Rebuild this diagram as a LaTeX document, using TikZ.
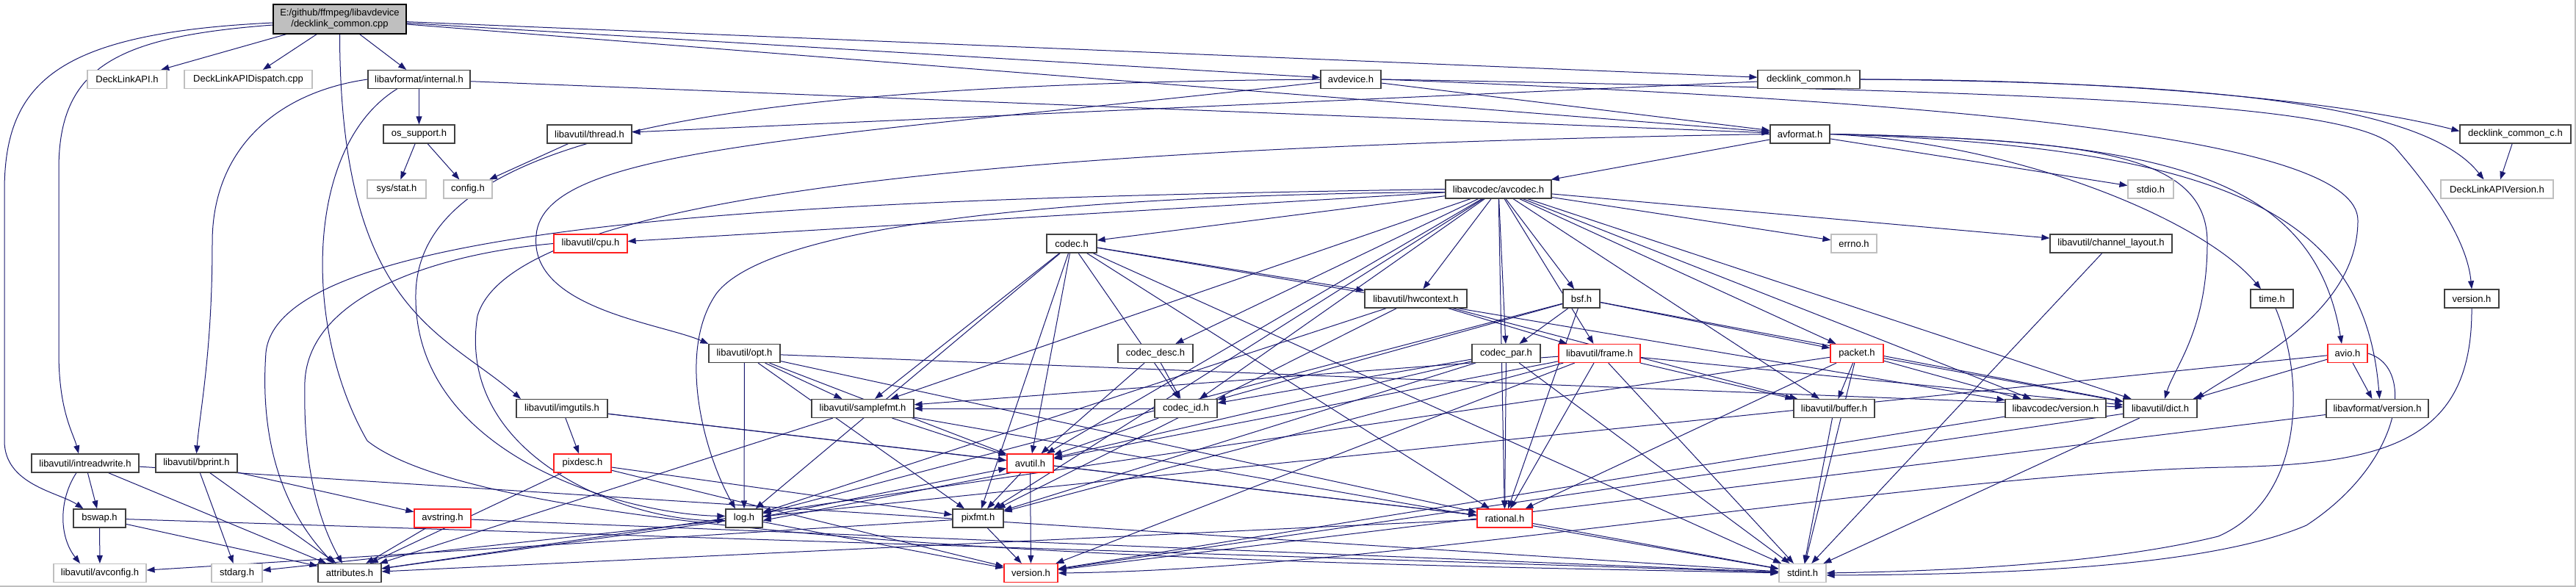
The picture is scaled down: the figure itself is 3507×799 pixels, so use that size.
\documentclass[tikz,border=0pt]{standalone}
\usepackage{fontspec}
\newfontfamily\lsans{Liberation Sans}
\usetikzlibrary{arrows.meta}
\pgfdeclarelayer{background}
\pgfsetlayers{background,main}
\definecolor{edgec}{HTML}{191970}
\definecolor{nodered}{HTML}{FF2020}
\definecolor{nodegray}{HTML}{BFBFBF}
\definecolor{nodeblack}{HTML}{404040}
\begin{document}
\begin{tikzpicture}[x=1pt,y=-1pt,
  base/.style={rectangle, inner sep=0pt, minimum height=25pt, line width=1.2pt, fill=white, font=\lsans\fontsize{13}{15}\selectfont, text=black},
  nb/.style={base, draw=nodeblack},
  nr/.style={base, draw=nodered},
  ng/.style={base, draw=nodegray},
  e/.style={draw=edgec, line width=1pt, -{Triangle[length=11pt,width=8pt]}},
]
\useasboundingbox (0,0) rectangle (3507,799);
% nodes
\node[nb, draw=black, fill=nodegray, minimum width=181pt, minimum height=40pt, align=center] (root) at (462.5,26) {E:/github/ffmpeg/libavdevice\\/decklink\_common.cpp};
\node[ng, minimum width=108pt] (dlapi) at (173,108) {DeckLinkAPI.h};
\node[ng, minimum width=174pt] (dldisp) at (338,108) {DeckLinkAPIDispatch.cpp};
\node[nb, minimum width=139pt] (internal) at (570.5,108) {libavformat/internal.h};
\node[nb, minimum width=82pt] (avdevice) at (1839,108) {avdevice.h};
\node[nb, minimum width=139pt] (dch) at (2462.5,108) {decklink\_common.h};
\node[nb, minimum width=97pt] (ossupport) at (570.5,182.5) {os\_support.h};
\node[nb, minimum width=115pt] (thread) at (802.5,182.5) {libavutil/thread.h};
\node[nb, minimum width=81pt] (avformat) at (2450.5,182.5) {avformat.h};
\node[nb, minimum width=151pt] (dchc) at (3424.5,182.5) {decklink\_common\_c.h};
\node[ng, minimum width=80pt] (sysstat) at (540,257.5) {sys/stat.h};
\node[ng, minimum width=66pt] (config) at (637,257.5) {config.h};
\node[nb, minimum width=144pt] (avcodec) at (2040,257.5) {libavcodec/avcodec.h};
\node[ng, minimum width=62pt] (stdio) at (2928,257.5) {stdio.h};
\node[ng, minimum width=153pt] (dlver) at (3399.5,257.5) {DeckLinkAPIVersion.h};
\node[nr, minimum width=100pt] (cpu) at (804,331.5) {libavutil/cpu.h};
\node[nb, minimum width=68pt] (codec) at (1459,331.5) {codec.h};
\node[ng, minimum width=62pt] (errno) at (2524,331.5) {errno.h};
\node[nb, minimum width=166pt] (chlayout) at (2874,331.5) {libavutil/channel\_layout.h};
\node[nb, minimum width=139pt] (hwcontext) at (1927.5,406.5) {libavutil/hwcontext.h};
\node[nb, minimum width=50pt] (bsf) at (2153,406.5) {bsf.h};
\node[nb, minimum width=58pt] (timeh) at (3093,406.5) {time.h};
\node[nb, minimum width=74pt] (lavdver) at (3365,406.5) {version.h};
\node[nb, minimum width=97pt] (opt) at (1013.5,481) {libavutil/opt.h};
\node[nb, minimum width=102pt] (codecdesc) at (1573,481) {codec\_desc.h};
\node[nb, minimum width=93pt] (codecpar) at (2050.5,481) {codec\_par.h};
\node[nr, minimum width=111pt] (frame) at (2177.5,481) {libavutil/frame.h};
\node[nr, minimum width=72pt] (packet) at (2528,481) {packet.h};
\node[nr, minimum width=54pt] (avio) at (3196,481) {avio.h};
\node[nb, minimum width=124pt] (imgutils) at (765,556) {libavutil/imgutils.h};
\node[nb, minimum width=139pt] (samplefmt) at (1174.5,556) {libavutil/samplefmt.h};
\node[nb, minimum width=85pt] (codecid) at (1614.5,556) {codec\_id.h};
\node[nb, minimum width=110pt] (buffer) at (2497,556) {libavutil/buffer.h};
\node[nb, minimum width=137pt] (lavcver) at (2798.5,556) {libavcodec/version.h};
\node[nb, minimum width=100pt] (dict) at (2941,556) {libavutil/dict.h};
\node[nb, minimum width=139pt] (lavfver) at (3236.5,556) {libavformat/version.h};
\node[nb, minimum width=146pt] (intreadwrite) at (116,630.5) {libavutil/intreadwrite.h};
\node[nb, minimum width=111pt] (bprint) at (267.5,630.5) {libavutil/bprint.h};
\node[nr, minimum width=78pt] (pixdesc) at (793,630.5) {pixdesc.h};
\node[nr, minimum width=63pt] (avutil) at (1402.5,630.5) {avutil.h};
\node[nb, minimum width=71pt] (bswap) at (135.5,705.5) {bswap.h};
\node[nr, minimum width=77pt] (avstring) at (602.5,705.5) {avstring.h};
\node[nb, minimum width=50pt] (log) at (1013,705.5) {log.h};
\node[nb, minimum width=69pt] (pixfmt) at (1331.5,705.5) {pixfmt.h};
\node[nr, minimum width=75pt] (rational) at (2048.5,705.5) {rational.h};
\node[ng, minimum width=126pt] (avconfig) at (136,780) {libavutil/avconfig.h};
\node[ng, minimum width=69pt] (stdarg) at (322.5,780) {stdarg.h};
\node[nb, minimum width=86pt] (attributes) at (476,780) {attributes.h};
\node[nr, minimum width=73pt] (version) at (1403.5,780) {version.h};
\node[ng, minimum width=64pt] (stdint) at (2454,780) {stdint.h};
% frame lines
\draw[color=nodegray, line width=2pt] (0,798) -- (3506,798) -- (3506,0);
\begin{pgfonlayer}{background}
% root
\draw[e] (root) -- (dlapi);
\draw[e] (root) -- (dldisp);
\draw[e] (root) -- (internal);
\draw[e] (root) -- (avdevice);
\draw[e] (root) -- (dch);
\draw[e] (root) -- (avformat);
\draw[e] (root.south) .. controls (463,420) and (600,450) .. ([xshift=-56pt]imgutils.north);
\draw[e] ([yshift=-8pt]root.west) .. controls (160,50) and (80,90) .. (80,230) -- (80,480) .. controls (80,560) and (100,590) .. ([xshift=-9pt]intreadwrite.north);
\draw[e] ([yshift=-5pt]root.west) .. controls (80,45) and (6,110) .. (6,260) -- (6,600) .. controls (6,660) and (80,670) .. ([xshift=-22pt]bswap.north);
% internal
\draw[e] (internal) -- (ossupport);
\draw[e] (internal) -- (avformat);
\draw[e] (internal.west) .. controls (380,125) and (289,200) .. (289,330) .. controls (289,480) and (272,560) .. (bprint.north);
\draw[e] ([xshift=-30pt]internal.south) .. controls (413,200) and (413,450) .. (500,600) .. controls (700,760) and (2000,770) .. (stdint.west);
% avdevice
\draw[e] (avdevice) -- (avformat);
\draw[e] (avdevice.west) .. controls (1000,115) and (570,180) .. (566,400) .. controls (562,620) and (850,700) .. ([yshift=3pt]log.west);
\draw[e] ([yshift=-4pt]avdevice.west) .. controls (1100,190) and (740,200) .. (730,320) .. controls (720,420) and (900,440) .. (opt.north west);
\draw[e] (avdevice.east) .. controls (2700,140) and (3210,190) .. (3210,300) .. controls (3210,430) and (3050,500) .. ([xshift=-2pt]dict.north east);
\draw[e] (avdevice.east) .. controls (2800,125) and (3200,140) .. (3260,200) .. controls (3330,280) and (3360,340) .. (lavdver.north);
% decklink_common.h
\draw[e] (dch) -- (thread);
\draw[e] (dch.east) .. controls (2900,108) and (3200,140) .. ([yshift=4pt]dchc.west);
\draw[e] (dch.east) .. controls (3000,112) and (3300,140) .. ([xshift=-18pt]dlver.north);
\draw[e] (dchc) -- (dlver);
\draw[e] (thread) -- (config);
\draw[e] (ossupport) -- (sysstat);
\draw[e] (ossupport) -- (config);
% avformat
\draw[e] (avformat) -- (avcodec);
\draw[e] (avformat) -- (stdio);
\draw[e] (avformat.east) .. controls (2750,195) and (3000,300) .. ([xshift=-15pt]timeh.north);
\draw[e] (avformat.east) .. controls (2850,190) and (3005,210) .. (3005,330) .. controls (3005,450) and (2960,500) .. ([xshift=6pt]dict.north);
\draw[e] (avformat.east) .. controls (2950,190) and (3150,240) .. ([xshift=-8pt]avio.north);
\draw[e] (avformat.east) .. controls (3050,200) and (3220,300) .. ([xshift=3pt]lavfver.north);
\draw[e] (avformat.west) .. controls (1400,200) and (700,260) .. (650,430) .. controls (620,620) and (850,710) .. ([yshift=-3pt]log.west);
% avcodec
\foreach \t in {errno,avutil,buffer,cpu,chlayout,dict,frame,hwcontext,pixfmt,rational,bsf,codec,codecdesc,codecpar,codecid,packet,lavcver,samplefmt}
  \draw[e] (avcodec) -- (\t);
\draw[e] ([yshift=-4pt]avcodec.west) .. controls (1500,265) and (1050,300) .. (975,400) .. controls (920,480) and (960,620) .. ([xshift=-12pt]log.north);
\draw[e] (avcodec.west) .. controls (1200,270) and (380,290) .. (362,480) .. controls (350,650) and (420,730) .. ([xshift=-22pt]attributes.north);
% codec
\foreach \t in {stdint,avutil,hwcontext,log,pixfmt,rational,samplefmt,codecid,lavcver}
  \draw[e] (codec) -- (\t);
\draw[e] (codecdesc) -- (avutil);
\draw[e] (codecdesc) -- (codecid);
\draw[e] (codecid) -- (avutil);
\draw[e] (codecid) -- (samplefmt);
\foreach \t in {stdint,avutil,rational,pixfmt,codecid}
  \draw[e] (codecpar) -- (\t);
\foreach \t in {dict,log,rational,codecid,codecpar,packet}
  \draw[e] (bsf) -- (\t);
\foreach \t in {stdint,attributes,buffer,dict,rational,lavcver}
  \draw[e] (packet) -- (\t);
\foreach \t in {buffer,frame,log,pixfmt}
  \draw[e] (hwcontext) -- (\t);
\foreach \t in {stdint,avutil,buffer,dict,rational,samplefmt,pixfmt,version}
  \draw[e] (frame) -- (\t);
\draw[e] (buffer) -- (stdint);
\draw[e] (dict) -- (stdint);
\draw[e] (dict) -- (version);
\foreach \t in {stdint,avutil,attributes}
  \draw[e] (samplefmt) -- (\t);
\draw[e] (avutil) -- (rational);
\draw[e] (avutil) -- (version);
\draw[e] (avutil) -- (pixfmt);
\draw[e] ([xshift=6pt]avutil.south west) -- ([yshift=-3pt]log.east);
\draw[e] ([yshift=2pt]log.east) -- ([yshift=-7pt]avutil.west);
\draw[e] (log) -- (stdarg);
\draw[e] (log) -- (attributes);
\draw[e] (log) -- (version);
\draw[e] (pixfmt) -- (avconfig);
\draw[e] (pixfmt) -- (version);
\draw[e] (rational) -- (stdint);
\draw[e] (rational) -- (attributes);
\foreach \t in {rational,avutil,dict,log,pixfmt,samplefmt}
  \draw[e] (opt) -- (\t);
\draw[e] (imgutils) -- (avutil);
\draw[e] (imgutils) -- (pixdesc);
\draw[e] (imgutils) -- (rational);
\draw[e] (pixdesc) -- (attributes);
\draw[e] (pixdesc) -- (pixfmt);
\draw[e] (pixdesc) -- (version);
\draw[e] (intreadwrite) -- (stdint);
\draw[e] (intreadwrite) -- (attributes);
\draw[e] (intreadwrite) -- (bswap);
\draw[e] ([xshift=-12pt]intreadwrite.south) .. controls (80,680) and (80,730) .. ([xshift=-27pt]avconfig.north);
\foreach \t in {stdint,avconfig,attributes}
  \draw[e] (bswap) -- (\t);
\draw[e] (bprint) -- (stdarg);
\draw[e] (bprint) -- (attributes);
\draw[e] (bprint) -- (avstring);
\draw[e] (avstring) -- (stdint);
\draw[e] (avstring) -- (attributes);
\draw[e] (cpu.west) .. controls (600,345) and (420,400) .. (415,520) .. controls (412,650) and (440,720) .. ([xshift=-10pt]attributes.north);
\draw[e] (chlayout) -- (stdint);
\draw[e] (avio) -- (dict);
\draw[e] (avio) -- (log);
\draw[e] (avio) -- (lavfver);
\draw[e] (avio.east) .. controls (3290,500) and (3270,630) .. (3140,715) .. controls (3000,775) and (2700,782) .. ([yshift=-3pt]stdint.east);
\draw[e] (lavfver) -- (version);
\draw[e] (lavcver) -- (version);
\draw[e] ([xshift=5pt]timeh.south) .. controls (3140,520) and (3135,680) .. (3020,730) .. controls (2850,772) and (2600,778) .. (stdint.east);
\draw[e] (lavdver.south) .. controls (3366,600) and (3250,632) .. (3030,636) .. controls (2600,645) and (1900,775) .. (version.east);
\end{pgfonlayer}
\end{tikzpicture}
\end{document}
